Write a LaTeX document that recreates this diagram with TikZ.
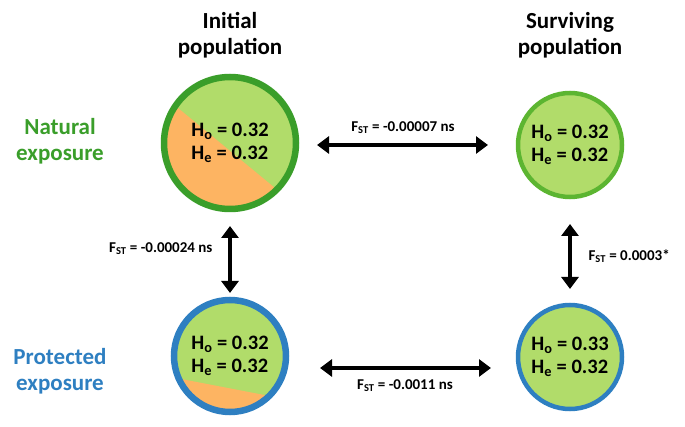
\documentclass[tikz,border=0pt]{standalone}
\usepackage{fontspec}
\setmainfont{Carlito}
\usetikzlibrary{arrows.meta}
\definecolor{lg}{HTML}{B1DC6A}
\definecolor{og}{HTML}{FDB462}
\definecolor{dg}{HTML}{3A9E2A}
\definecolor{mg}{HTML}{5CB531}
\definecolor{bl}{HTML}{2E7FC1}
\tikzset{
 pop/.style={circle,fill=lg,line width=4.5pt,minimum size=#1,inner sep=0pt},
 hval/.style={font=\bfseries\fontsize{20.5}{23}\selectfont,align=left},
 title/.style={font=\bfseries\fontsize{23}{26}\selectfont,align=center},
 fst/.style={font=\bfseries\fontsize{15}{17}\selectfont},
 dbl/.style={{Triangle[length=12pt,width=17pt]}-{Triangle[length=12pt,width=17pt]},line width=4.5pt}
}
\newcommand{\hv}[2]{H\textsubscript{o} = #1\\H\textsubscript{e} = #2}
\newcommand{\fs}{F\textsubscript{ST}}
\begin{document}
\begin{tikzpicture}[x=1pt,y=-1pt]
\useasboundingbox (0,0) rectangle (685,427);
% top-left
\node[pop=134pt,draw=dg] (tl) at (230,143) {};
\begin{scope}
 \clip (230,143) circle (65pt);
 \fill[og] (178,108) -- (275,188) -- (320,260) -- (140,260) -- (140,60) -- cycle;
\end{scope}
\draw[dg,line width=4.5pt] (230,143) circle (65pt);
\node[hval] at (230,143) {\hv{0.32}{0.32}};
% top-right
\node[pop=104pt,draw=mg] (tr) at (570,145) {};
\node[hval] at (570,145) {\hv{0.32}{0.32}};
% bottom-left
\node[pop=114pt,draw=bl] (bl) at (230,356) {};
\begin{scope}
 \clip (230,356) circle (55pt);
 \fill[og] (176,378) -- (280,398) -- (300,430) -- (160,430) -- cycle;
\end{scope}
\draw[bl,line width=4.5pt] (230,356) circle (55pt);
\node[hval] at (230,356) {\hv{0.32}{0.32}};
% bottom-right
\node[pop=104pt,draw=bl] (br) at (570,357) {};
\node[hval] at (570,357) {\hv{0.33}{0.32}};
% titles
\node[title] (t1) at (230,35) {Initial\\population};
\node[title] (t2) at (570,35) {Surviving\\population};
\node[title,text=dg] (l1) at (60,141) {Natural\\exposure};
\node[title,text=bl] (l2) at (60,371) {Protected\\exposure};
% arrow ends
\coordinate (a1) at (317,145); \coordinate (a2) at (488,145);
\coordinate (b1) at (320,368); \coordinate (b2) at (491,368);
\coordinate (c1) at (230,226); \coordinate (c2) at (230,293);
\coordinate (d1) at (570,224); \coordinate (d2) at (570,289);
\draw[dbl] (a1) -- (a2);
\draw[dbl] (b1) -- (b2);
\draw[dbl] (c1) -- (c2);
\draw[dbl] (d1) -- (d2);
\node[fst] (f1) at (403,128) {\fs{} = -0.00007 ns};
\node[fst] (f2) at (405,386) {\fs{} = -0.0011 ns};
\node[fst,anchor=east] (f3) at (216,249) {\fs{} = -0.00024 ns};
\node[fst,anchor=west] (f4) at (585,256) {\fs{} = 0.0003*};
\end{tikzpicture}
\end{document}
